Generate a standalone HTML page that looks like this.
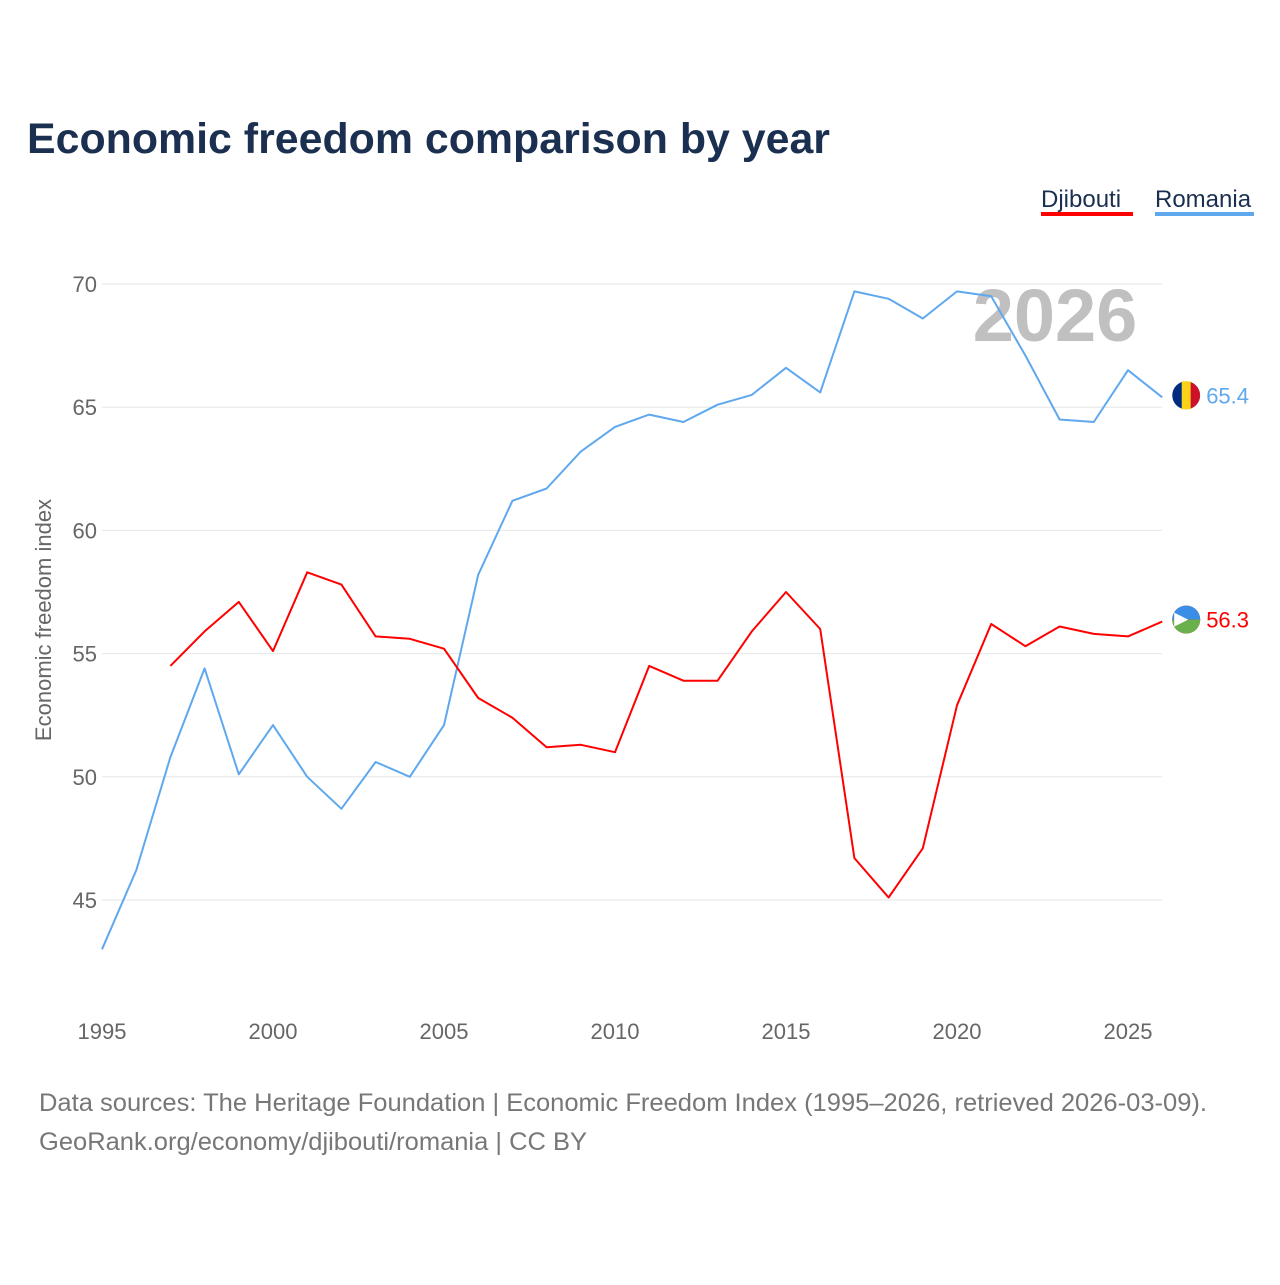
<!DOCTYPE html>
<html><head><meta charset="utf-8"><style>
html,body{margin:0;padding:0;background:#fff;}
body{width:1280px;height:1280px;overflow:hidden;font-family:"Liberation Sans",sans-serif;}
</style></head><body>
<svg id="chart" width="1280" height="1280" xmlns="http://www.w3.org/2000/svg">
<text x="27" y="153" font-size="43" font-weight="bold" fill="#1b3050" textLength="803" lengthAdjust="spacingAndGlyphs">Economic freedom comparison by year</text>
<g>
<text x="1041" y="207" font-size="24" fill="#1b3050">Djibouti</text>
<rect x="1041" y="212" width="92" height="4" fill="#ff0000"/>
<text x="1155" y="207" font-size="24" fill="#1b3050">Romania</text>
<rect x="1155" y="212" width="99" height="4" fill="#5fa8ee"/>
</g>
<text x="1055" y="341" font-size="74" font-weight="bold" fill="#c0c0c0" text-anchor="middle">2026</text>
<g id="grid"></g>
<g id="xt"></g>
<text transform="translate(51,620) rotate(-90)" font-size="22" fill="#666" text-anchor="middle">Economic freedom index</text>
<g id="lines"></g>
<text x="39" y="1111" font-size="25" fill="#777" textLength="1168" lengthAdjust="spacingAndGlyphs">Data sources: The Heritage Foundation | Economic Freedom Index (1995–2026, retrieved 2026-03-09).</text>
<text x="39" y="1150" font-size="25" fill="#777" textLength="548" lengthAdjust="spacingAndGlyphs">GeoRank.org/economy/djibouti/romania | CC BY</text>
</svg>
<script>
const years=[1995,1996,1997,1998,1999,2000,2001,2002,2003,2004,2005,2006,2007,2008,2009,2010,2011,2012,2013,2014,2015,2016,2017,2018,2019,2020,2021,2022,2023,2024,2025,2026];
const romania=[43.0,46.2,50.8,54.4,50.1,52.1,50.0,48.7,50.6,50.0,52.1,58.2,61.2,61.7,63.2,64.2,64.7,64.4,65.1,65.5,66.6,65.6,69.7,69.4,68.6,69.7,69.5,67.1,64.5,64.4,66.5,65.4];
const djibouti=[null,null,54.5,55.9,57.1,55.1,58.3,57.8,55.7,55.6,55.2,53.2,52.4,51.2,51.3,51.0,54.5,53.9,53.9,55.9,57.5,56.0,46.7,45.1,47.1,52.9,56.2,55.3,56.1,55.8,55.7,56.3];
const yTicks=[45,50,55,60,65,70];
const xTicks=[1995,2000,2005,2010,2015,2020,2025];
const NS="http://www.w3.org/2000/svg";
const xs=y=>102+(y-1995)*(1128-102)/30;
const ys=v=>284+(70-v)*(900-284)/25;
function mk(t,a,p){const e=document.createElementNS(NS,t);for(const k in a)e.setAttribute(k,a[k]);p.appendChild(e);return e;}
const grid=document.getElementById('grid');
yTicks.forEach(v=>{
 const l=mk('line',{x1:102,x2:1162,y1:ys(v),y2:ys(v),stroke:'#e6e6e6','stroke-width':1},grid);
 
 
 const t=mk('text',{x:97,y:ys(v)+8,'font-size':22,fill:'#666','text-anchor':'end'},grid);
 t.textContent=v;
 
 
});
const xt=document.getElementById('xt');
xTicks.forEach(y=>{
 const t=mk('text',{x:xs(y),y:1039,'font-size':22,fill:'#666','text-anchor':'middle'},xt);
 t.textContent=y;
 
 
});
const lines=document.getElementById('lines');
function draw(vals,color,name){
 let d='';let first=true;
 vals.forEach((v,i)=>{if(v==null)return;d+=(first?'M':'L')+xs(years[i]).toFixed(1)+','+ys(v).toFixed(1);first=false;});
 const p=mk('path',{d:d,fill:'none',stroke:color,'stroke-width':2,'stroke-linejoin':'round'},lines);
 
 
 const lv=vals[vals.length-1];const cx=xs(years[years.length-1])+24,cy=ys(lv)-2;
 const c=mk('circle',{cx:cx,cy:cy,r:14,fill:color},lines);
 
 
 const t=mk('text',{x:cx+20,y:cy+8,'font-size':22,fill:color},lines);
 t.textContent=lv.toFixed(1);
 
 
 return [cx,cy];
}
const [rx,ry]=draw(romania,'#5fa8ee','romania');
mk('rect',{x:rx-4.5,y:ry-14,width:9,height:28,fill:'#fcd116'},lines);
mk('path',{d:`M${rx-4.5},${ry-13.2}A14,14 0 0 0 ${rx-4.5},${ry+13.2}Z`,fill:'#002b7f'},lines);
mk('path',{d:`M${rx+4.5},${ry-13.2}A14,14 0 0 1 ${rx+4.5},${ry+13.2}Z`,fill:'#ce1126'},lines);
const [dx,dy]=draw(djibouti,'#ff0000','djibouti');
mk('path',{d:`M${dx-14},${dy}A14,14 0 0 1 ${dx+14},${dy}Z`,fill:'#3a8ee6'},lines);
mk('path',{d:`M${dx-14},${dy}A14,14 0 0 0 ${dx+14},${dy}Z`,fill:'#6ab04c'},lines);
mk('path',{d:`M${dx-12},${dy-7}L${dx+2},${dy}L${dx-12},${dy+7}Z`,fill:'#fff'},lines);
</script>
</body></html>
